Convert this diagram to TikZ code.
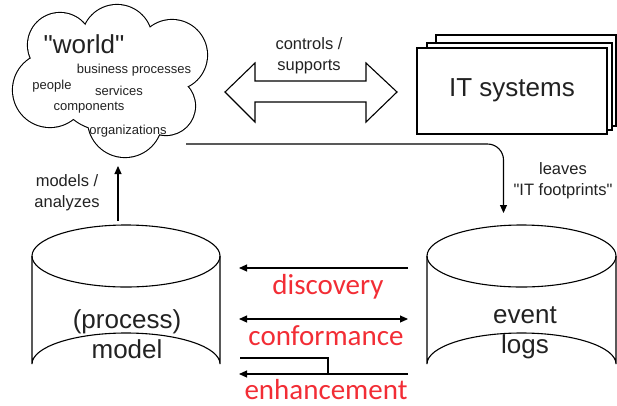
\documentclass[tikz,border=0pt]{standalone}
\usepackage{fontspec}
\setmainfont{Liberation Sans}
\newfontfamily\redfont{Carlito}
\usetikzlibrary{arrows.meta}

\definecolor{ink}{HTML}{222222}
\definecolor{minered}{HTML}{F22D35}

\tikzset{
  outline/.style={draw=black, line width=1.1pt},
  conn/.style={draw=black, line width=1.1pt, -{Triangle[length=8pt,width=7pt]}},
  biconn/.style={draw=black, line width=1.1pt, {Triangle[length=8pt,width=7pt]}-{Triangle[length=8pt,width=7pt]}},
  plain/.style={draw=black, line width=1.1pt},
  bigtext/.style={text=ink, font=\fontsize{26}{30}\selectfont, align=center, inner sep=0pt},
  midtext/.style={text=ink, font=\fontsize{16.5}{21}\selectfont, align=center, inner sep=0pt},
  smalltext/.style={text=ink, font=\fontsize{13}{15}\selectfont, inner sep=0pt},
  minetext/.style={text=minered, font=\redfont\fontsize{29}{32}\selectfont, inner sep=0pt, anchor=base},
}

\begin{document}
\begin{tikzpicture}[x=1pt, y=-1pt]
\path[use as bounding box] (0,0) rectangle (617,405);

% the world cloud: union of puffs, outlined then filled so only the rim shows
\def\puffs{60/45/32, 117/40/35, 172/55/35, 166/106/29, 125/120/37, 50/90/37, 105/80/50}
\foreach \cx/\cy/\r in \puffs
  \draw[line width=2.2pt] (\cx,\cy) circle[radius=\r];
\foreach \cx/\cy/\r in \puffs
  \fill[white] (\cx,\cy) circle[radius=\r];
\coordinate (world) at (106,78);
\node[bigtext] (worldlabel) at (84,44) {\textquotedbl world\textquotedbl};
\node[smalltext] (bp) at (134,70) {business processes};
\node[smalltext] (people) at (52,86) {people};
\node[smalltext] (services) at (119,91) {services};
\node[smalltext] (components) at (89,108) {components};
\node[smalltext] (orgs) at (128,131) {organizations};

% controls / supports double arrow
\draw[outline, fill=white] (225,92) -- (255,63) -- (255,81) -- (366,81) -- (366,63)
  -- (397,92) -- (366,122) -- (366,102) -- (255,102) -- (255,122) -- cycle;
\node[midtext] (controls) at (309,56) {controls /\\supports};

% stacked IT systems boxes
\draw[outline, fill=white] (436,35) rectangle (616,126);
\draw[outline, fill=white] (427,43) rectangle (612,130);
\draw[outline, fill=white] (417,48) rectangle (607,134);
\node[bigtext] (it) at (512,90) {IT systems};

% process model cylinder
\draw[outline] (32,256) -- (32,364) arc[start angle=180, end angle=360, x radius=94, y radius=31] -- (220,256);
\draw[outline] (126,256) ellipse[x radius=94, y radius=31];
\node[bigtext] (model) at (127,334) {(process)\\model};
\coordinate (modeltop) at (118,221);

% event log cylinder
\draw[outline] (427,256) -- (427,364) arc[start angle=180, end angle=360, x radius=94.5, y radius=31] -- (616,256);
\draw[outline] (521.5,256) ellipse[x radius=94.5, y radius=31];
\node[bigtext] (logs) at (525,333) {event\\logs};
\coordinate (logstop) at (503.5,213);

% models / analyzes
\coordinate (worldbottom) at (118,166);
\draw[conn] (modeltop) -- (worldbottom);
\node[midtext] (models) at (67,193) {models /\\analyzes};

% leaves IT footprints
\coordinate (footstart) at (186,144);
\draw[conn, rounded corners=16pt] (footstart) -| (logstop);
\node[midtext] (leaves) at (563,181) {leaves\\\textquotedbl IT footprints\textquotedbl};

% discovery, conformance, enhancement
\coordinate (dR) at (408,268);
\coordinate (dL) at (239,268);
\draw[conn] (dR) -- (dL);
\node[minetext] (discovery) at (328,294) {discovery};

\coordinate (cR) at (408,319);
\coordinate (cL) at (239,319);
\draw[biconn] (cL) -- (cR);
\node[minetext] (conformance) at (326,345) {conformance};

\coordinate (eR) at (408,374);
\coordinate (eL) at (239,374);
\coordinate (eM) at (328,374);
\coordinate (eTop) at (240,358);
\draw[conn] (eR) -- (eL);
\draw[plain] (eM) |- (eTop);
\node[minetext] (enhancement) at (326,399) {enhancement};
\end{tikzpicture}
\end{document}
